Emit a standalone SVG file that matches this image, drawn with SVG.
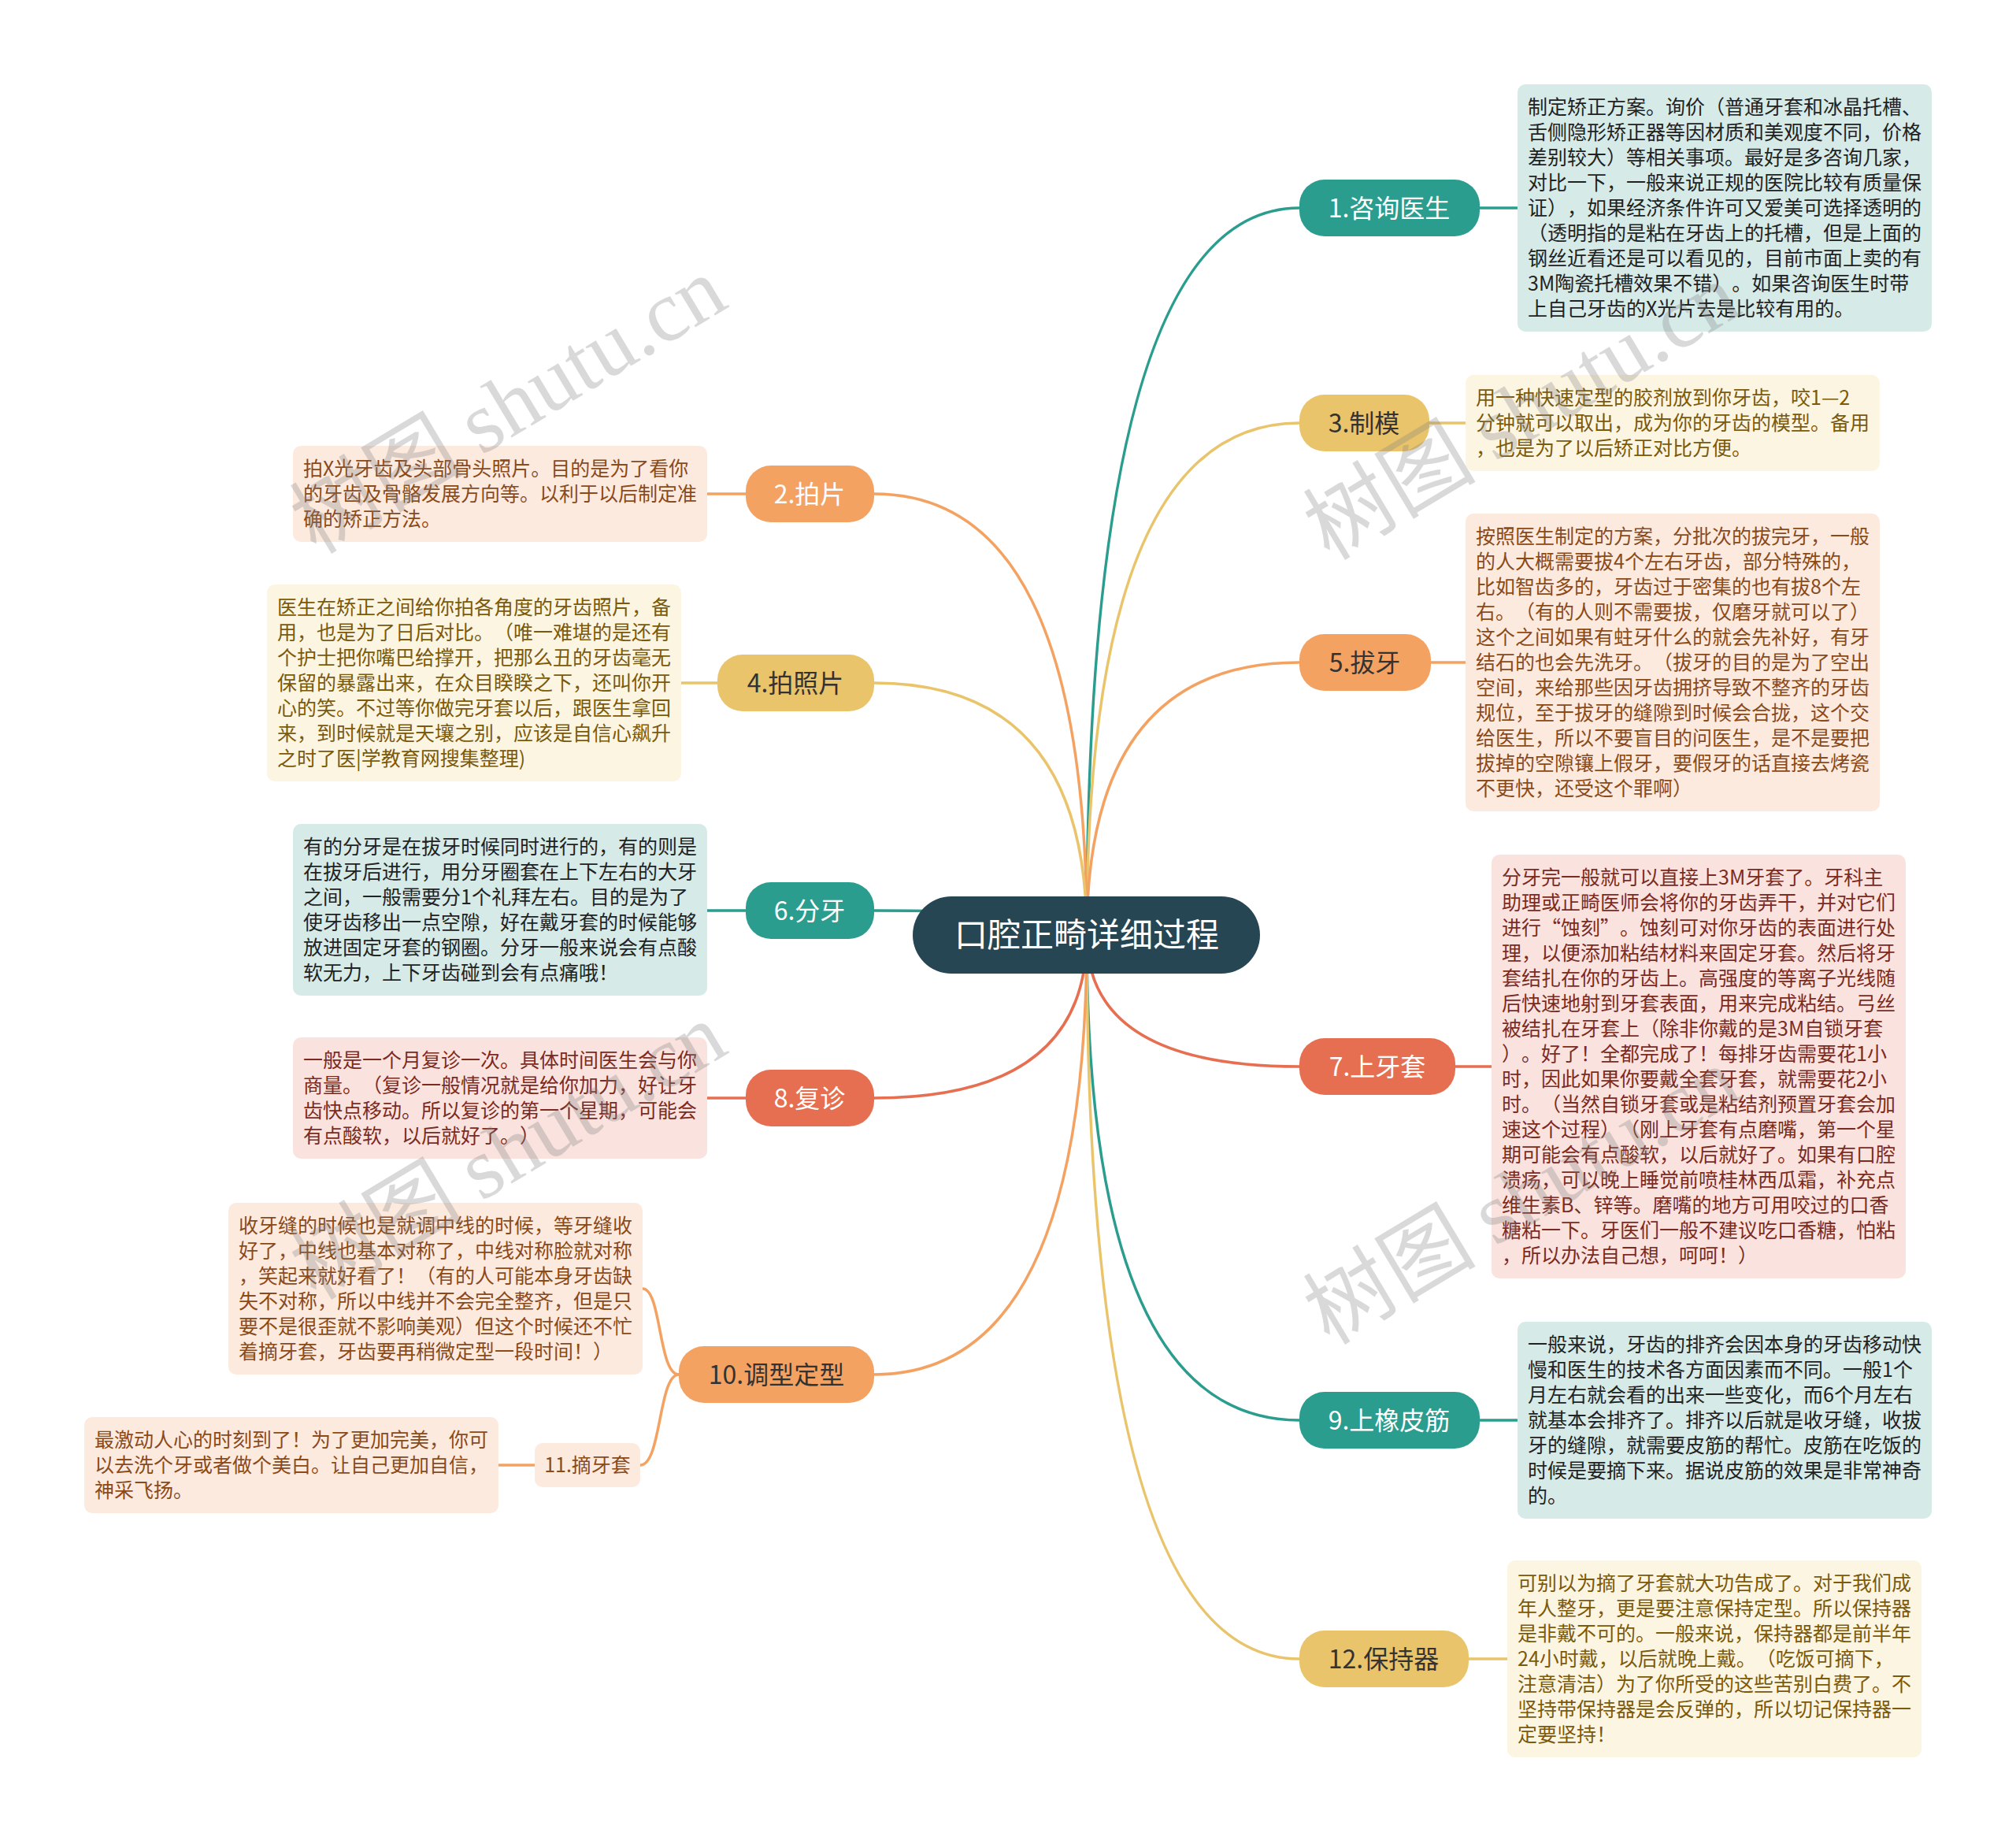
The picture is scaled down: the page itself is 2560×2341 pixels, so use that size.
<svg xmlns="http://www.w3.org/2000/svg" width="2560" height="2341" viewBox="0 0 2560 2341">
<style>
text{font-family:"Noto Sans CJK SC","Noto Sans",sans-serif;text-spacing-trim:space-all;font-feature-settings:"halt" 0,"chws" 0}
.dt{font-size:25px}
.nt{font-size:32px;text-anchor:middle}
.ct{font-size:42px;text-anchor:middle;fill:#fff}
.conn path{fill:none;stroke-width:3.5;stroke-linecap:round}
.cT{stroke:#2a9d8f}.cY{stroke:#e9c46a}.cO{stroke:#f4a261}.cR{stroke:#e76f51}
.nT{fill:#2a9d8f}.nY{fill:#e9c46a}.nO{fill:#f4a261}.nR{fill:#e76f51}
.bT{fill:#d6ebe8}.bY{fill:#fcf5e2}.bO{fill:#fdeadf}.bR{fill:#fae3de}
.tT{fill:#222}.tY{fill:#7b5a0b}.tO{fill:#8a4a1a}.tR{fill:#7b2b1f}
.wm{font-size:110px;fill:#808080;fill-opacity:0.3;text-anchor:middle}
</style>
<rect width="2560" height="2341" fill="#fff"/>
<g id="connectors" class="conn">
<path class="cT" d="M1380 1187 Q1380 264 1650 264"/>
<path class="cY" d="M1380 1187 Q1380 537 1650 537"/>
<path class="cO" d="M1380 1187 Q1380 841 1650 841"/>
<path class="cR" d="M1380 1187 Q1380 1354 1650 1354"/>
<path class="cT" d="M1380 1187 Q1380 1803 1650 1803"/>
<path class="cY" d="M1380 1187 Q1380 2106 1650 2106"/>
<path class="cO" d="M1380 1187 Q1380 627 1110 627"/>
<path class="cY" d="M1380 1187 Q1380 867 1110 867"/>
<path class="cT" d="M1380 1187 Q1380 1156 1110 1156"/>
<path class="cR" d="M1380 1187 Q1380 1394 1110 1394"/>
<path class="cO" d="M1380 1187 Q1380 1745 1110 1745"/>
<path class="cT" d="M1879 264 H1927"/>
<path class="cY" d="M1815 537 H1861"/>
<path class="cO" d="M1817 841 H1861"/>
<path class="cR" d="M1848 1354 H1894"/>
<path class="cT" d="M1879 1803 H1927"/>
<path class="cY" d="M1865 2106 H1914"/>
<path class="cO" d="M947 627 H898"/>
<path class="cY" d="M911 867 H865"/>
<path class="cT" d="M947 1156 H898"/>
<path class="cR" d="M947 1394 H898"/>
<path class="cO" d="M862 1745 C836 1745 840 1636 816 1636"/>
<path class="cO" d="M862 1745 C836 1745 840 1860 813 1860"/>
<path class="cO" d="M679 1860 H633"/>
</g>
<g id="center">
<rect x="1159" y="1138" width="441" height="98" rx="49" fill="#264653"/>
<text class="ct" x="1380" y="1202">口腔正畸详细过程</text>
</g>
<g id="n1">
<rect class="nT" x="1650" y="228" width="229" height="72" rx="32"/>
<text class="nt" x="1764" y="276" fill="#fff">1.咨询医生</text>
</g>
<g id="d1">
<rect class="bT" x="1927" y="107" width="526" height="314" rx="10"/>
<text class="dt tT" x="1940" y="145"><tspan x="1940">制定矫正方案。询价（普通牙套和冰晶托槽、</tspan><tspan x="1940" dy="32">舌侧隐形矫正器等因材质和美观度不同，价格</tspan><tspan x="1940" dy="32">差别较大）等相关事项。最好是多咨询几家，</tspan><tspan x="1940" dy="32">对比一下，一般来说正规的医院比较有质量保</tspan><tspan x="1940" dy="32">证），如果经济条件许可又爱美可选择透明的</tspan><tspan x="1940" dy="32">（透明指的是粘在牙齿上的托槽，但是上面的</tspan><tspan x="1940" dy="32">钢丝近看还是可以看见的，目前市面上卖的有</tspan><tspan x="1940" dy="32">3M陶瓷托槽效果不错）。如果咨询医生时带</tspan><tspan x="1940" dy="32">上自己牙齿的X光片去是比较有用的。</tspan></text>
</g>
<g id="n3">
<rect class="nY" x="1650" y="501" width="165" height="72" rx="32"/>
<text class="nt" x="1732" y="549" fill="#333">3.制模</text>
</g>
<g id="d3">
<rect class="bY" x="1861" y="476" width="526" height="122" rx="10"/>
<text class="dt tY" x="1874" y="514"><tspan x="1874">用一种快速定型的胶剂放到你牙齿，咬1—2</tspan><tspan x="1874" dy="32">分钟就可以取出，成为你的牙齿的模型。备用</tspan><tspan x="1874" dy="32">，也是为了以后矫正对比方便。</tspan></text>
</g>
<g id="n5">
<rect class="nO" x="1650" y="805" width="167" height="72" rx="32"/>
<text class="nt" x="1733" y="853" fill="#333">5.拔牙</text>
</g>
<g id="d5">
<rect class="bO" x="1861" y="652" width="526" height="378" rx="10"/>
<text class="dt tO" x="1874" y="690"><tspan x="1874">按照医生制定的方案，分批次的拔完牙，一般</tspan><tspan x="1874" dy="32">的人大概需要拔4个左右牙齿，部分特殊的，</tspan><tspan x="1874" dy="32">比如智齿多的，牙齿过于密集的也有拔8个左</tspan><tspan x="1874" dy="32">右。（有的人则不需要拔，仅磨牙就可以了）</tspan><tspan x="1874" dy="32">这个之间如果有蛀牙什么的就会先补好，有牙</tspan><tspan x="1874" dy="32">结石的也会先洗牙。（拔牙的目的是为了空出</tspan><tspan x="1874" dy="32">空间，来给那些因牙齿拥挤导致不整齐的牙齿</tspan><tspan x="1874" dy="32">规位，至于拔牙的缝隙到时候会合拢，这个交</tspan><tspan x="1874" dy="32">给医生，所以不要盲目的问医生，是不是要把</tspan><tspan x="1874" dy="32">拔掉的空隙镶上假牙，要假牙的话直接去烤瓷</tspan><tspan x="1874" dy="32">不更快，还受这个罪啊）</tspan></text>
</g>
<g id="n7">
<rect class="nR" x="1650" y="1318" width="198" height="72" rx="32"/>
<text class="nt" x="1749" y="1366" fill="#fff">7.上牙套</text>
</g>
<g id="d7">
<rect class="bR" x="1894" y="1085" width="526" height="538" rx="10"/>
<text class="dt tR" x="1907" y="1123"><tspan x="1907">分牙完一般就可以直接上3M牙套了。牙科主</tspan><tspan x="1907" dy="32">助理或正畸医师会将你的牙齿弄干，并对它们</tspan><tspan x="1907" dy="32">进行“蚀刻”。蚀刻可对你牙齿的表面进行处</tspan><tspan x="1907" dy="32">理，以便添加粘结材料来固定牙套。然后将牙</tspan><tspan x="1907" dy="32">套结扎在你的牙齿上。高强度的等离子光线随</tspan><tspan x="1907" dy="32">后快速地射到牙套表面，用来完成粘结。弓丝</tspan><tspan x="1907" dy="32">被结扎在牙套上（除非你戴的是3M自锁牙套</tspan><tspan x="1907" dy="32">）。好了！全都完成了！每排牙齿需要花1小</tspan><tspan x="1907" dy="32">时，因此如果你要戴全套牙套，就需要花2小</tspan><tspan x="1907" dy="32">时。（当然自锁牙套或是粘结剂预置牙套会加</tspan><tspan x="1907" dy="32">速这个过程）（刚上牙套有点磨嘴，第一个星</tspan><tspan x="1907" dy="32">期可能会有点酸软，以后就好了。如果有口腔</tspan><tspan x="1907" dy="32">溃疡，可以晚上睡觉前喷桂林西瓜霜，补充点</tspan><tspan x="1907" dy="32">维生素B、锌等。磨嘴的地方可用咬过的口香</tspan><tspan x="1907" dy="32">糖粘一下。牙医们一般不建议吃口香糖，怕粘</tspan><tspan x="1907" dy="32">，所以办法自己想，呵呵！）</tspan></text>
</g>
<g id="n9">
<rect class="nT" x="1650" y="1767" width="229" height="72" rx="32"/>
<text class="nt" x="1764" y="1815" fill="#fff">9.上橡皮筋</text>
</g>
<g id="d9">
<rect class="bT" x="1927" y="1678" width="526" height="250" rx="10"/>
<text class="dt tT" x="1940" y="1716"><tspan x="1940">一般来说，牙齿的排齐会因本身的牙齿移动快</tspan><tspan x="1940" dy="32">慢和医生的技术各方面因素而不同。一般1个</tspan><tspan x="1940" dy="32">月左右就会看的出来一些变化，而6个月左右</tspan><tspan x="1940" dy="32">就基本会排齐了。排齐以后就是收牙缝，收拔</tspan><tspan x="1940" dy="32">牙的缝隙，就需要皮筋的帮忙。皮筋在吃饭的</tspan><tspan x="1940" dy="32">时候是要摘下来。据说皮筋的效果是非常神奇</tspan><tspan x="1940" dy="32">的。</tspan></text>
</g>
<g id="n12">
<rect class="nY" x="1650" y="2070" width="215" height="72" rx="32"/>
<text class="nt" x="1757" y="2118" fill="#333">12.保持器</text>
</g>
<g id="d12">
<rect class="bY" x="1914" y="1981" width="526" height="250" rx="10"/>
<text class="dt tY" x="1927" y="2019"><tspan x="1927">可别以为摘了牙套就大功告成了。对于我们成</tspan><tspan x="1927" dy="32">年人整牙，更是要注意保持定型。所以保持器</tspan><tspan x="1927" dy="32">是非戴不可的。一般来说，保持器都是前半年</tspan><tspan x="1927" dy="32">24小时戴，以后就晚上戴。（吃饭可摘下，</tspan><tspan x="1927" dy="32">注意清洁）为了你所受的这些苦别白费了。不</tspan><tspan x="1927" dy="32">坚持带保持器是会反弹的，所以切记保持器一</tspan><tspan x="1927" dy="32">定要坚持！</tspan></text>
</g>
<g id="n2">
<rect class="nO" x="947" y="591" width="163" height="72" rx="32"/>
<text class="nt" x="1028" y="639" fill="#fff">2.拍片</text>
</g>
<g id="d2">
<rect class="bO" x="372" y="566" width="526" height="122" rx="10"/>
<text class="dt tO" x="385" y="604"><tspan x="385">拍X光牙齿及头部骨头照片。目的是为了看你</tspan><tspan x="385" dy="32">的牙齿及骨骼发展方向等。以利于以后制定准</tspan><tspan x="385" dy="32">确的矫正方法。</tspan></text>
</g>
<g id="n4">
<rect class="nY" x="911" y="831" width="199" height="72" rx="32"/>
<text class="nt" x="1010" y="879" fill="#333">4.拍照片</text>
</g>
<g id="d4">
<rect class="bY" x="339" y="742" width="526" height="250" rx="10"/>
<text class="dt tY" x="352" y="780"><tspan x="352">医生在矫正之间给你拍各角度的牙齿照片，备</tspan><tspan x="352" dy="32">用，也是为了日后对比。（唯一难堪的是还有</tspan><tspan x="352" dy="32">个护士把你嘴巴给撑开，把那么丑的牙齿毫无</tspan><tspan x="352" dy="32">保留的暴露出来，在众目睽睽之下，还叫你开</tspan><tspan x="352" dy="32">心的笑。不过等你做完牙套以后，跟医生拿回</tspan><tspan x="352" dy="32">来，到时候就是天壤之别，应该是自信心飙升</tspan><tspan x="352" dy="32">之时了医|学教育网搜集整理)</tspan></text>
</g>
<g id="n6">
<rect class="nT" x="947" y="1120" width="163" height="72" rx="32"/>
<text class="nt" x="1028" y="1168" fill="#fff">6.分牙</text>
</g>
<g id="d6">
<rect class="bT" x="372" y="1046" width="526" height="218" rx="10"/>
<text class="dt tT" x="385" y="1084"><tspan x="385">有的分牙是在拔牙时候同时进行的，有的则是</tspan><tspan x="385" dy="32">在拔牙后进行，用分牙圈套在上下左右的大牙</tspan><tspan x="385" dy="32">之间，一般需要分1个礼拜左右。目的是为了</tspan><tspan x="385" dy="32">使牙齿移出一点空隙，好在戴牙套的时候能够</tspan><tspan x="385" dy="32">放进固定牙套的钢圈。分牙一般来说会有点酸</tspan><tspan x="385" dy="32">软无力，上下牙齿碰到会有点痛哦！</tspan></text>
</g>
<g id="n8">
<rect class="nR" x="947" y="1358" width="163" height="72" rx="32"/>
<text class="nt" x="1028" y="1406" fill="#fff">8.复诊</text>
</g>
<g id="d8">
<rect class="bR" x="372" y="1317" width="526" height="154" rx="10"/>
<text class="dt tR" x="385" y="1355"><tspan x="385">一般是一个月复诊一次。具体时间医生会与你</tspan><tspan x="385" dy="32">商量。（复诊一般情况就是给你加力，好让牙</tspan><tspan x="385" dy="32">齿快点移动。所以复诊的第一个星期，可能会</tspan><tspan x="385" dy="32">有点酸软，以后就好了。）</tspan></text>
</g>
<g id="n10">
<rect class="nO" x="862" y="1709" width="248" height="72" rx="32"/>
<text class="nt" x="986" y="1757" fill="#333">10.调型定型</text>
</g>
<g id="d10">
<rect class="bO" x="290" y="1527" width="526" height="218" rx="10"/>
<text class="dt tO" x="303" y="1565"><tspan x="303">收牙缝的时候也是就调中线的时候，等牙缝收</tspan><tspan x="303" dy="32">好了，中线也基本对称了，中线对称脸就对称</tspan><tspan x="303" dy="32">，笑起来就好看了！（有的人可能本身牙齿缺</tspan><tspan x="303" dy="32">失不对称，所以中线并不会完全整齐，但是只</tspan><tspan x="303" dy="32">要不是很歪就不影响美观）但这个时候还不忙</tspan><tspan x="303" dy="32">着摘牙套，牙齿要再稍微定型一段时间！）</tspan></text>
</g>
<g id="n11">
<rect class="bO" x="679" y="1832" width="134" height="56" rx="10"/>
<text class="tO" x="746" y="1869" font-size="25" text-anchor="middle">11.摘牙套</text>
</g>
<g id="d11">
<rect class="bO" x="107" y="1799" width="526" height="122" rx="10"/>
<text class="dt tO" x="120" y="1837"><tspan x="120">最激动人心的时刻到了！为了更加完美，你可</tspan><tspan x="120" dy="32">以去洗个牙或者做个美白。让自己更加自信，</tspan><tspan x="120" dy="32">神采飞扬。</tspan></text>
</g>
<g id="watermarks">
<text class="wm" x="645" y="552" transform="rotate(-31 645 514)">树图 <tspan font-family="Liberation Serif,serif">shutu.cn</tspan></text>
<text class="wm" x="1932" y="560" transform="rotate(-31 1932 522)">树图 <tspan font-family="Liberation Serif,serif">shutu.cn</tspan></text>
<text class="wm" x="645" y="1499" transform="rotate(-31 645 1461)">树图 <tspan font-family="Liberation Serif,serif">shutu.cn</tspan></text>
<text class="wm" x="1932" y="1556" transform="rotate(-31 1932 1518)">树图 <tspan font-family="Liberation Serif,serif">shutu.cn</tspan></text>
</g>
</svg>
